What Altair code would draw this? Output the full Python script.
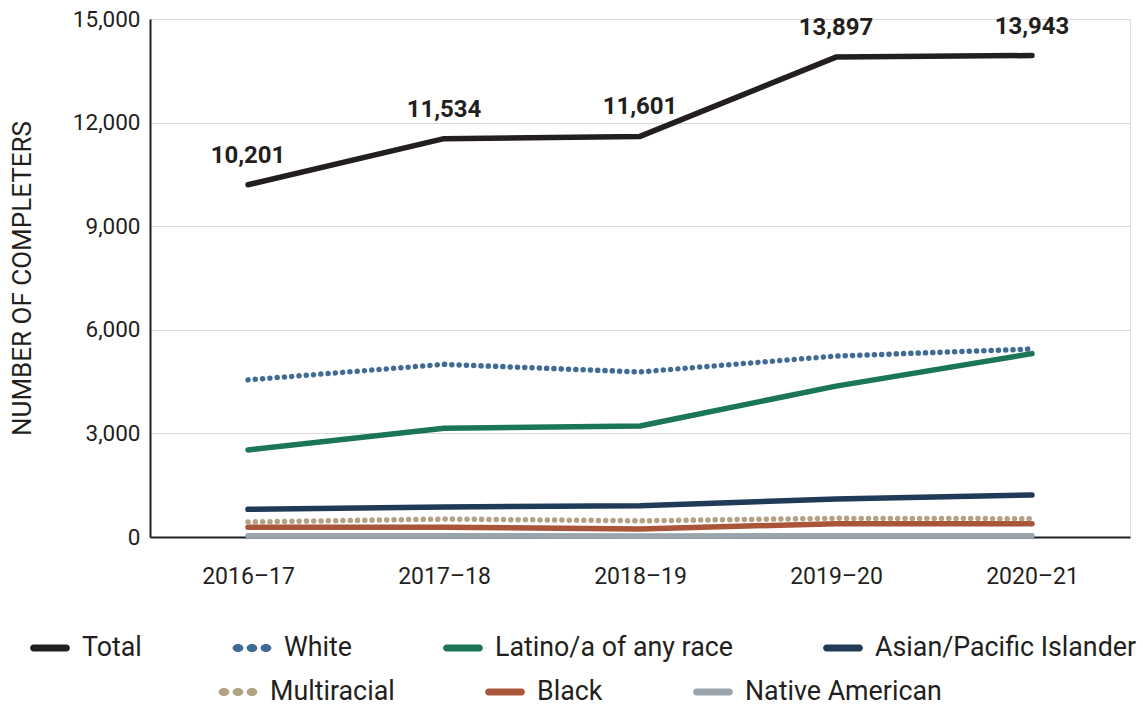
import altair as alt
import pandas as pd

years = ["2016–17", "2017–18", "2018–19", "2019–20", "2020–21"]
total = [10201, 11534, 11601, 13897, 13943]
white = [4550, 5000, 4780, 5240, 5445]
latino = [2520, 3150, 3215, 4370, 5310]
asian = [800, 870, 905, 1100, 1215]
multiracial = [435, 520, 470, 540, 530]
black = [280, 280, 235, 385, 385]
native = [35, 35, 30, 35, 35]

group1 = ["Total", "White", "Latino/a of any race", "Asian/Pacific Islander"]
group2 = ["Multiracial", "Black", "Native American"]
colors1 = ["#231f20", "#3f6b96", "#1b7558", "#1f3b58"]
colors2 = ["#b3a283", "#a8553a", "#9aa4ad"]
dotted = ["White", "Multiracial"]

# legend symbol shapes (unit square, scaled by legend symbol size)
PILL = ("M-0.82,-0.175 L0.82,-0.175 A0.175,0.175 0 0 1 0.82,0.175 "
        "L-0.82,0.175 A0.175,0.175 0 0 1 -0.82,-0.175 Z")
def ellipse(cx, rx=0.27, ry=0.2):
    return (f"M{cx - rx},0 A{rx},{ry} 0 1 0 {cx + rx},0 "
            f"A{rx},{ry} 0 1 0 {cx - rx},0 Z")
DOTS = " ".join(ellipse(c) for c in (-0.7, 0.0, 0.7))
shapes1 = [PILL, DOTS, PILL, PILL]
shapes2 = [DOTS, PILL, PILL]

series = {
    "Total": total, "White": white, "Latino/a of any race": latino,
    "Asian/Pacific Islander": asian, "Multiracial": multiracial,
    "Black": black, "Native American": native,
}
rows = []
for name, vals in series.items():
    for y, v in zip(years, vals):
        rows.append({"year": y, "value": v, "group": name})
df = pd.DataFrame(rows)

FONT = "Roboto"
INK = "#231f20"

x = alt.X("year:N", sort=years, scale=alt.Scale(type="point", padding=0.5),
          axis=alt.Axis(title=None, labelAngle=0, ticks=False, labelPadding=28,
                        labelFontSize=23, labelColor=INK, labelFont=FONT,
                        domainColor=INK, domainWidth=2, grid=False))
y = alt.Y("value:Q", scale=alt.Scale(domain=[0, 15000], nice=False),
          axis=alt.Axis(title="NUMBER OF COMPLETERS", values=[0, 3000, 6000, 9000, 12000, 15000],
                        format=",d", ticks=False, labelPadding=10, labelFontSize=22.5,
                        labelColor=INK, labelFont=FONT, titleFont=FONT, titleFontSize=26,
                        titleFontWeight="normal", titleColor=INK, titlePadding=37,
                        domainColor=INK, domainWidth=2, gridColor="#d9d9d9", gridWidth=1.2))

all_groups = group1 + group2
all_colors = colors1 + colors2
line_color = alt.Color("group:N", scale=alt.Scale(domain=all_groups, range=all_colors), legend=None)

base = alt.Chart(df)

solid_lines = base.transform_filter(
    alt.FieldOneOfPredicate(field="group", oneOf=[g for g in all_groups if g not in dotted])
).mark_line(strokeWidth=5.5, strokeCap="round", strokeJoin="round").encode(x=x, y=y, color=line_color)

dotted_lines = base.transform_filter(
    alt.FieldOneOfPredicate(field="group", oneOf=dotted)
).mark_line(strokeWidth=5.5, strokeCap="round", strokeJoin="round", strokeDash=[0.1, 7.2]).encode(
    x=x, y=y, color=line_color)

def legend(lx, ly):
    return alt.Legend(title=None, orient="none", direction="horizontal", legendX=lx, legendY=ly,
                      symbolSize=1600, symbolStrokeWidth=0, symbolOpacity=1,
                      labelFont=FONT, labelFontSize=26.8, labelColor=INK, labelOffset=12,
                      columnPadding=90, padding=0, labelLimit=400)

def legend_layer(groups, colors, shapes, lx, ly):
    return base.transform_filter(alt.FieldOneOfPredicate(field="group", oneOf=groups)).mark_point(
        filled=True).encode(
        x=x, y=y,
        opacity=alt.value(0),
        color=alt.Color("group:N", scale=alt.Scale(domain=groups, range=colors), legend=legend(lx, ly)),
        shape=alt.Shape("group:N", scale=alt.Scale(domain=groups, range=shapes), legend=legend(lx, ly)),
    )

leg1 = legend_layer(group1, colors1, shapes1, -120, 609)
leg2 = legend_layer(group2, colors2, shapes2, 68, 653)

labels = base.transform_filter(alt.datum.group == "Total").mark_text(
    dy=-29, fontSize=24, fontWeight="bold", font=FONT, color=INK).encode(
    x=x, y=y, text=alt.Text("value:Q", format=",d"))

chart = alt.layer(solid_lines, dotted_lines, leg1, leg2, labels).resolve_scale(
    color="independent", shape="independent"
).properties(
    width=980, height=518,
    autosize=alt.AutoSizeParams(type="none"),
    padding={"left": 150, "top": 19, "right": 13, "bottom": 169},
).configure_view(stroke=None).configure(background="white")

chart.save("out.html", embed_options={"renderer": "svg", "actions": False})
